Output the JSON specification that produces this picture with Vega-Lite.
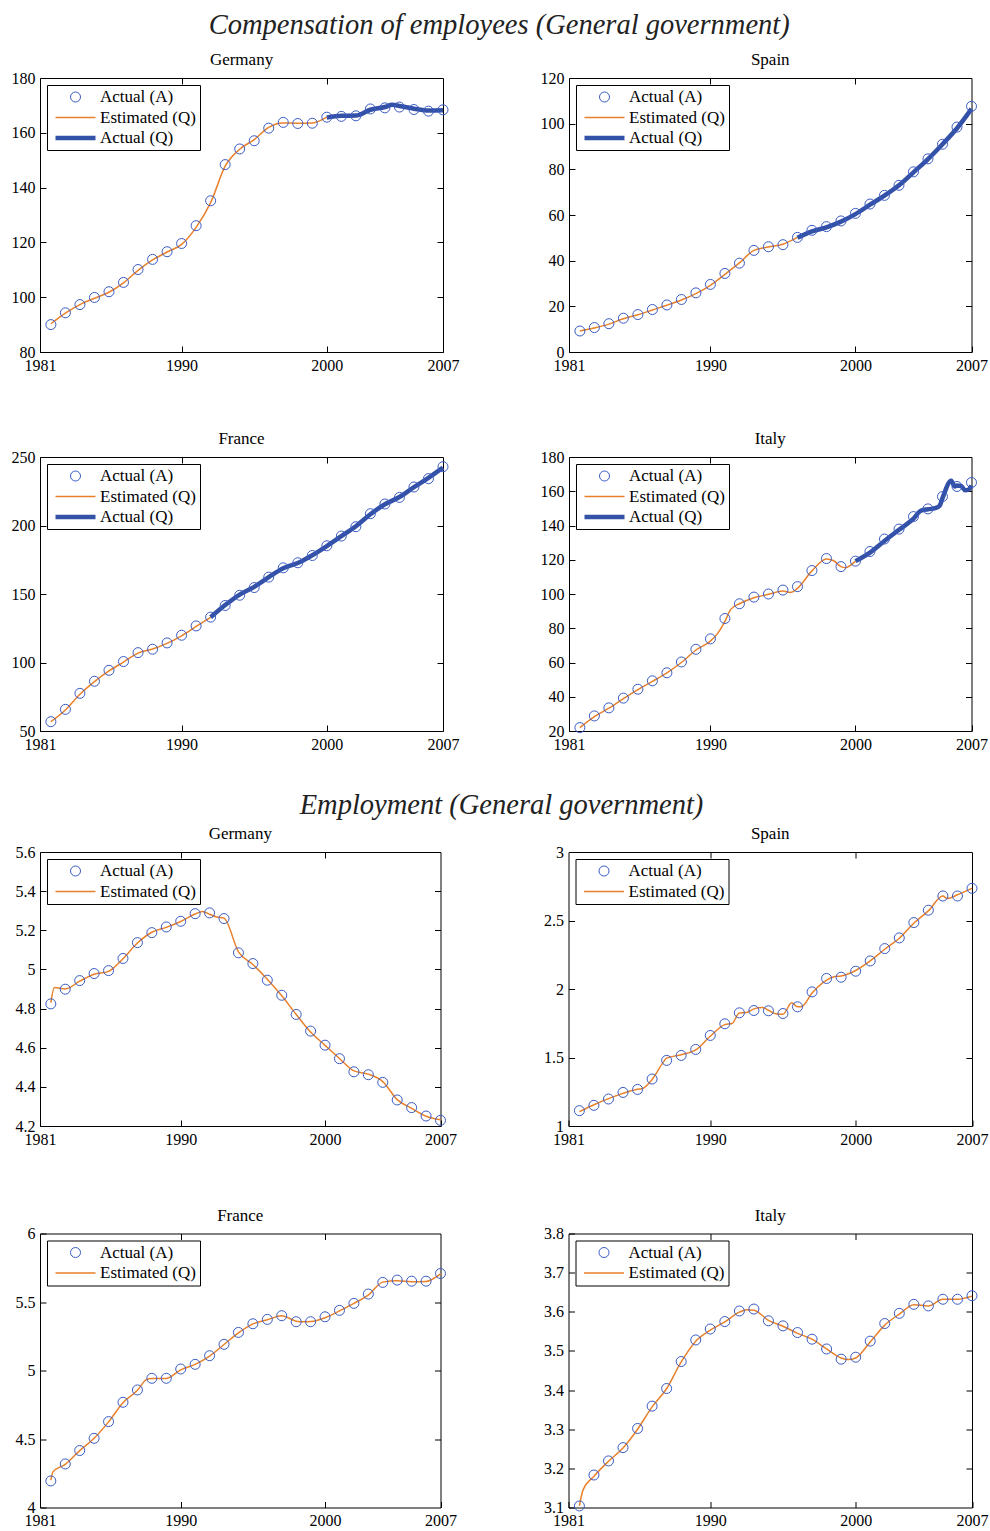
{
"$schema": "https://vega.github.io/schema/vega-lite/v6.json",
"background": "white",
"padding": {"left": 10, "top": 10, "right": 2, "bottom": 2},
"config": {
  "view": {"stroke": "black", "strokeWidth": 1},
  "font": "Liberation Serif",
  "axis": {"grid": false, "domain": false, "ticks": true, "tickColor": "black", "tickSize": -6, "tickWidth": 1, "labelFont": "Liberation Serif", "labelFontSize": 16, "labelColor": "black", "labelPadding": 11, "labelFlush": false, "labelOverlap": false},
  "title": {"font": "Liberation Serif", "fontSize": 17, "fontWeight": "normal", "color": "black", "offset": 1, "anchor": "middle"},
  "legend": {"strokeColor": "black", "fillColor": "white", "padding": 4, "cornerRadius": 0, "labelFont": "Liberation Serif", "labelFontSize": 17, "labelColor": "black", "labelOffset": 16, "symbolOffset": 16, "clipHeight": 16, "rowPadding": 3.5, "labelLimit": 300, "symbolFillColor": "transparent"}
},
"data": {"values": [
{"p":"cDE","s":"A","x":1981,"v":90.0},{"p":"cDE","s":"A","x":1982,"v":94.3},{"p":"cDE","s":"A","x":1983,"v":97.3},{"p":"cDE","s":"A","x":1984,"v":99.9},{"p":"cDE","s":"A","x":1985,"v":102.0},{"p":"cDE","s":"A","x":1986,"v":105.4},{"p":"cDE","s":"A","x":1987,"v":110.1},{"p":"cDE","s":"A","x":1988,"v":113.8},{"p":"cDE","s":"A","x":1989,"v":116.6},{"p":"cDE","s":"A","x":1990,"v":119.6},{"p":"cDE","s":"A","x":1991,"v":126.1},{"p":"cDE","s":"A","x":1992,"v":135.2},{"p":"cDE","s":"A","x":1993,"v":148.4},{"p":"cDE","s":"A","x":1994,"v":154.1},{"p":"cDE","s":"A","x":1995,"v":157.1},{"p":"cDE","s":"A","x":1996,"v":161.7},{"p":"cDE","s":"A","x":1997,"v":163.8},{"p":"cDE","s":"A","x":1998,"v":163.4},{"p":"cDE","s":"A","x":1999,"v":163.5},{"p":"cDE","s":"A","x":2000,"v":165.7},{"p":"cDE","s":"A","x":2001,"v":166.0},{"p":"cDE","s":"A","x":2002,"v":166.2},{"p":"cDE","s":"A","x":2003,"v":168.7},{"p":"cDE","s":"A","x":2004,"v":169.1},{"p":"cDE","s":"A","x":2005,"v":169.4},{"p":"cDE","s":"A","x":2006,"v":168.5},{"p":"cDE","s":"A","x":2007,"v":167.9},{"p":"cDE","s":"A","x":2008,"v":168.4},
{"p":"cDE","s":"E","x":1981,"v":90.3},{"p":"cDE","s":"E","x":1982,"v":94.2},{"p":"cDE","s":"E","x":1983,"v":97.3},{"p":"cDE","s":"E","x":1984,"v":99.6},{"p":"cDE","s":"E","x":1985,"v":101.8},{"p":"cDE","s":"E","x":1986,"v":105.2},{"p":"cDE","s":"E","x":1987,"v":109.8},{"p":"cDE","s":"E","x":1988,"v":113.6},{"p":"cDE","s":"E","x":1989,"v":116.5},{"p":"cDE","s":"E","x":1990,"v":119.3},{"p":"cDE","s":"E","x":1991,"v":125.5},{"p":"cDE","s":"E","x":1992,"v":134.5},{"p":"cDE","s":"E","x":1993,"v":147.8},{"p":"cDE","s":"E","x":1994,"v":154.0},{"p":"cDE","s":"E","x":1995,"v":157.5},{"p":"cDE","s":"E","x":1996,"v":162.0},{"p":"cDE","s":"E","x":1997,"v":163.6},{"p":"cDE","s":"E","x":1998,"v":163.5},{"p":"cDE","s":"E","x":1999,"v":163.6},{"p":"cDE","s":"E","x":2000,"v":165.7},
{"p":"cDE","s":"Q","x":2000,"v":165.6},{"p":"cDE","s":"Q","x":2001,"v":166.2},{"p":"cDE","s":"Q","x":2002,"v":166.3},{"p":"cDE","s":"Q","x":2003,"v":168.4},{"p":"cDE","s":"Q","x":2004,"v":169.4},{"p":"cDE","s":"Q","x":2004.5,"v":170.2},{"p":"cDE","s":"Q","x":2005,"v":169.8},{"p":"cDE","s":"Q","x":2006,"v":168.8},{"p":"cDE","s":"Q","x":2007,"v":168.1},{"p":"cDE","s":"Q","x":2008,"v":168.2},
{"p":"cES","s":"A","x":1981,"v":9.2},{"p":"cES","s":"A","x":1982,"v":10.7},{"p":"cES","s":"A","x":1983,"v":12.4},{"p":"cES","s":"A","x":1984,"v":14.8},{"p":"cES","s":"A","x":1985,"v":16.4},{"p":"cES","s":"A","x":1986,"v":18.6},{"p":"cES","s":"A","x":1987,"v":20.6},{"p":"cES","s":"A","x":1988,"v":23.0},{"p":"cES","s":"A","x":1989,"v":25.9},{"p":"cES","s":"A","x":1990,"v":29.6},{"p":"cES","s":"A","x":1991,"v":34.4},{"p":"cES","s":"A","x":1992,"v":38.9},{"p":"cES","s":"A","x":1993,"v":44.5},{"p":"cES","s":"A","x":1994,"v":46.1},{"p":"cES","s":"A","x":1995,"v":47.0},{"p":"cES","s":"A","x":1996,"v":50.2},{"p":"cES","s":"A","x":1997,"v":53.3},{"p":"cES","s":"A","x":1998,"v":54.9},{"p":"cES","s":"A","x":1999,"v":57.4},{"p":"cES","s":"A","x":2000,"v":60.7},{"p":"cES","s":"A","x":2001,"v":64.8},{"p":"cES","s":"A","x":2002,"v":68.6},{"p":"cES","s":"A","x":2003,"v":73.0},{"p":"cES","s":"A","x":2004,"v":78.9},{"p":"cES","s":"A","x":2005,"v":84.6},{"p":"cES","s":"A","x":2006,"v":91.0},{"p":"cES","s":"A","x":2007,"v":98.5},{"p":"cES","s":"A","x":2008,"v":107.6},
{"p":"cES","s":"E","x":1981,"v":9.2},{"p":"cES","s":"E","x":1982,"v":10.5},{"p":"cES","s":"E","x":1983,"v":12.2},{"p":"cES","s":"E","x":1984,"v":14.6},{"p":"cES","s":"E","x":1985,"v":16.3},{"p":"cES","s":"E","x":1986,"v":18.4},{"p":"cES","s":"E","x":1987,"v":20.5},{"p":"cES","s":"E","x":1988,"v":22.8},{"p":"cES","s":"E","x":1989,"v":25.6},{"p":"cES","s":"E","x":1990,"v":29.2},{"p":"cES","s":"E","x":1991,"v":34.0},{"p":"cES","s":"E","x":1992,"v":39.0},{"p":"cES","s":"E","x":1993,"v":44.5},{"p":"cES","s":"E","x":1994,"v":46.0},{"p":"cES","s":"E","x":1995,"v":47.2},{"p":"cES","s":"E","x":1996,"v":50.2},
{"p":"cES","s":"Q","x":1996,"v":50.0},{"p":"cES","s":"Q","x":1997,"v":52.8},{"p":"cES","s":"Q","x":1998,"v":54.6},{"p":"cES","s":"Q","x":1999,"v":57.1},{"p":"cES","s":"Q","x":2000,"v":60.4},{"p":"cES","s":"Q","x":2001,"v":64.5},{"p":"cES","s":"Q","x":2002,"v":68.5},{"p":"cES","s":"Q","x":2003,"v":73.0},{"p":"cES","s":"Q","x":2004,"v":78.7},{"p":"cES","s":"Q","x":2005,"v":84.5},{"p":"cES","s":"Q","x":2006,"v":91.0},{"p":"cES","s":"Q","x":2007,"v":98.0},{"p":"cES","s":"Q","x":2008,"v":106.5},
{"p":"cFR","s":"A","x":1981,"v":56.8},{"p":"cFR","s":"A","x":1982,"v":65.8},{"p":"cFR","s":"A","x":1983,"v":77.5},{"p":"cFR","s":"A","x":1984,"v":86.3},{"p":"cFR","s":"A","x":1985,"v":94.3},{"p":"cFR","s":"A","x":1986,"v":100.7},{"p":"cFR","s":"A","x":1987,"v":107.2},{"p":"cFR","s":"A","x":1988,"v":109.7},{"p":"cFR","s":"A","x":1989,"v":114.3},{"p":"cFR","s":"A","x":1990,"v":119.9},{"p":"cFR","s":"A","x":1991,"v":126.7},{"p":"cFR","s":"A","x":1992,"v":133.1},{"p":"cFR","s":"A","x":1993,"v":141.6},{"p":"cFR","s":"A","x":1994,"v":149.1},{"p":"cFR","s":"A","x":1995,"v":154.7},{"p":"cFR","s":"A","x":1996,"v":162.3},{"p":"cFR","s":"A","x":1997,"v":169.1},{"p":"cFR","s":"A","x":1998,"v":172.8},{"p":"cFR","s":"A","x":1999,"v":178.1},{"p":"cFR","s":"A","x":2000,"v":185.2},{"p":"cFR","s":"A","x":2001,"v":192.3},{"p":"cFR","s":"A","x":2002,"v":199.1},{"p":"cFR","s":"A","x":2003,"v":208.6},{"p":"cFR","s":"A","x":2004,"v":215.7},{"p":"cFR","s":"A","x":2005,"v":220.5},{"p":"cFR","s":"A","x":2006,"v":228.1},{"p":"cFR","s":"A","x":2007,"v":234.2},{"p":"cFR","s":"A","x":2008,"v":242.9},
{"p":"cFR","s":"E","x":1981,"v":56.8},{"p":"cFR","s":"E","x":1982,"v":65.3},{"p":"cFR","s":"E","x":1983,"v":76.8},{"p":"cFR","s":"E","x":1984,"v":86.0},{"p":"cFR","s":"E","x":1985,"v":93.8},{"p":"cFR","s":"E","x":1986,"v":100.3},{"p":"cFR","s":"E","x":1987,"v":106.8},{"p":"cFR","s":"E","x":1988,"v":109.9},{"p":"cFR","s":"E","x":1989,"v":114.0},{"p":"cFR","s":"E","x":1990,"v":119.5},{"p":"cFR","s":"E","x":1991,"v":126.3},{"p":"cFR","s":"E","x":1992,"v":133.0},
{"p":"cFR","s":"Q","x":1992,"v":133.0},{"p":"cFR","s":"Q","x":1993,"v":141.9},{"p":"cFR","s":"Q","x":1994,"v":149.6},{"p":"cFR","s":"Q","x":1995,"v":155.2},{"p":"cFR","s":"Q","x":1996,"v":162.3},{"p":"cFR","s":"Q","x":1997,"v":168.8},{"p":"cFR","s":"Q","x":1998,"v":172.6},{"p":"cFR","s":"Q","x":1999,"v":178.3},{"p":"cFR","s":"Q","x":2000,"v":185.0},{"p":"cFR","s":"Q","x":2001,"v":192.2},{"p":"cFR","s":"Q","x":2002,"v":199.5},{"p":"cFR","s":"Q","x":2003,"v":208.2},{"p":"cFR","s":"Q","x":2004,"v":215.5},{"p":"cFR","s":"Q","x":2005,"v":220.8},{"p":"cFR","s":"Q","x":2006,"v":228.0},{"p":"cFR","s":"Q","x":2007,"v":234.8},{"p":"cFR","s":"Q","x":2008,"v":242.2},
{"p":"cIT","s":"A","x":1981,"v":22.0},{"p":"cIT","s":"A","x":1982,"v":28.8},{"p":"cIT","s":"A","x":1983,"v":33.5},{"p":"cIT","s":"A","x":1984,"v":39.2},{"p":"cIT","s":"A","x":1985,"v":44.4},{"p":"cIT","s":"A","x":1986,"v":49.3},{"p":"cIT","s":"A","x":1987,"v":54.0},{"p":"cIT","s":"A","x":1988,"v":60.3},{"p":"cIT","s":"A","x":1989,"v":67.7},{"p":"cIT","s":"A","x":1990,"v":73.8},{"p":"cIT","s":"A","x":1991,"v":85.7},{"p":"cIT","s":"A","x":1992,"v":94.3},{"p":"cIT","s":"A","x":1993,"v":98.2},{"p":"cIT","s":"A","x":1994,"v":100.0},{"p":"cIT","s":"A","x":1995,"v":102.3},{"p":"cIT","s":"A","x":1996,"v":104.3},{"p":"cIT","s":"A","x":1997,"v":113.7},{"p":"cIT","s":"A","x":1998,"v":120.7},{"p":"cIT","s":"A","x":1999,"v":116.0},{"p":"cIT","s":"A","x":2000,"v":119.2},{"p":"cIT","s":"A","x":2001,"v":124.8},{"p":"cIT","s":"A","x":2002,"v":132.1},{"p":"cIT","s":"A","x":2003,"v":137.9},{"p":"cIT","s":"A","x":2004,"v":145.2},{"p":"cIT","s":"A","x":2005,"v":149.7},{"p":"cIT","s":"A","x":2006,"v":156.9},{"p":"cIT","s":"A","x":2007,"v":162.8},{"p":"cIT","s":"A","x":2008,"v":165.1},
{"p":"cIT","s":"E","x":1981,"v":22.0},{"p":"cIT","s":"E","x":1982,"v":28.4},{"p":"cIT","s":"E","x":1983,"v":33.3},{"p":"cIT","s":"E","x":1984,"v":38.9},{"p":"cIT","s":"E","x":1985,"v":44.2},{"p":"cIT","s":"E","x":1986,"v":49.0},{"p":"cIT","s":"E","x":1987,"v":54.0},{"p":"cIT","s":"E","x":1988,"v":60.0},{"p":"cIT","s":"E","x":1989,"v":67.3},{"p":"cIT","s":"E","x":1990,"v":72.5},{"p":"cIT","s":"E","x":1990.5,"v":77.0},{"p":"cIT","s":"E","x":1991,"v":84.0},{"p":"cIT","s":"E","x":1991.4,"v":91.0},{"p":"cIT","s":"E","x":1992,"v":94.3},{"p":"cIT","s":"E","x":1993,"v":97.8},{"p":"cIT","s":"E","x":1994,"v":99.8},{"p":"cIT","s":"E","x":1995,"v":101.8},{"p":"cIT","s":"E","x":1995.5,"v":100.9},{"p":"cIT","s":"E","x":1996,"v":103.3},{"p":"cIT","s":"E","x":1997,"v":113.5},{"p":"cIT","s":"E","x":1998,"v":120.5},{"p":"cIT","s":"E","x":1998.5,"v":119.4},{"p":"cIT","s":"E","x":1999,"v":116.0},{"p":"cIT","s":"E","x":1999.3,"v":115.4},{"p":"cIT","s":"E","x":2000,"v":119.2},
{"p":"cIT","s":"Q","x":2000,"v":119.2},{"p":"cIT","s":"Q","x":2001,"v":124.2},{"p":"cIT","s":"Q","x":2002,"v":131.0},{"p":"cIT","s":"Q","x":2003,"v":137.5},{"p":"cIT","s":"Q","x":2004,"v":144.0},{"p":"cIT","s":"Q","x":2004.5,"v":148.6},{"p":"cIT","s":"Q","x":2005,"v":149.5},{"p":"cIT","s":"Q","x":2005.5,"v":150.1},{"p":"cIT","s":"Q","x":2005.8,"v":151.5},{"p":"cIT","s":"Q","x":2006,"v":156.0},{"p":"cIT","s":"Q","x":2006.6,"v":166.2},{"p":"cIT","s":"Q","x":2006.85,"v":162.8},{"p":"cIT","s":"Q","x":2007,"v":163.4},{"p":"cIT","s":"Q","x":2007.3,"v":163.0},{"p":"cIT","s":"Q","x":2007.55,"v":160.6},{"p":"cIT","s":"Q","x":2007.8,"v":161.0},{"p":"cIT","s":"Q","x":2008,"v":163.4},
{"p":"eDE","s":"A","x":1981,"v":4.824},{"p":"eDE","s":"A","x":1982,"v":4.899},{"p":"eDE","s":"A","x":1983,"v":4.943},{"p":"eDE","s":"A","x":1984,"v":4.979},{"p":"eDE","s":"A","x":1985,"v":4.994},{"p":"eDE","s":"A","x":1986,"v":5.056},{"p":"eDE","s":"A","x":1987,"v":5.137},{"p":"eDE","s":"A","x":1988,"v":5.188},{"p":"eDE","s":"A","x":1989,"v":5.217},{"p":"eDE","s":"A","x":1990,"v":5.246},{"p":"eDE","s":"A","x":1991,"v":5.285},{"p":"eDE","s":"A","x":1992,"v":5.289},{"p":"eDE","s":"A","x":1993,"v":5.26},{"p":"eDE","s":"A","x":1994,"v":5.085},{"p":"eDE","s":"A","x":1995,"v":5.03},{"p":"eDE","s":"A","x":1996,"v":4.945},{"p":"eDE","s":"A","x":1997,"v":4.868},{"p":"eDE","s":"A","x":1998,"v":4.77},{"p":"eDE","s":"A","x":1999,"v":4.685},{"p":"eDE","s":"A","x":2000,"v":4.613},{"p":"eDE","s":"A","x":2001,"v":4.544},{"p":"eDE","s":"A","x":2002,"v":4.477},{"p":"eDE","s":"A","x":2003,"v":4.462},{"p":"eDE","s":"A","x":2004,"v":4.423},{"p":"eDE","s":"A","x":2005,"v":4.333},{"p":"eDE","s":"A","x":2006,"v":4.294},{"p":"eDE","s":"A","x":2007,"v":4.251},{"p":"eDE","s":"A","x":2008,"v":4.229},
{"p":"eDE","s":"E","x":1981,"v":4.83},{"p":"eDE","s":"E","x":1981.25,"v":4.908},{"p":"eDE","s":"E","x":1982,"v":4.9},{"p":"eDE","s":"E","x":1983,"v":4.94},{"p":"eDE","s":"E","x":1984,"v":4.975},{"p":"eDE","s":"E","x":1985,"v":4.99},{"p":"eDE","s":"E","x":1986,"v":5.055},{"p":"eDE","s":"E","x":1987,"v":5.135},{"p":"eDE","s":"E","x":1988,"v":5.19},{"p":"eDE","s":"E","x":1989,"v":5.215},{"p":"eDE","s":"E","x":1990,"v":5.245},{"p":"eDE","s":"E","x":1991,"v":5.283},{"p":"eDE","s":"E","x":1991.5,"v":5.296},{"p":"eDE","s":"E","x":1992,"v":5.282},{"p":"eDE","s":"E","x":1992.5,"v":5.268},{"p":"eDE","s":"E","x":1993,"v":5.262},{"p":"eDE","s":"E","x":1994,"v":5.09},{"p":"eDE","s":"E","x":1995,"v":5.025},{"p":"eDE","s":"E","x":1996,"v":4.95},{"p":"eDE","s":"E","x":1997,"v":4.865},{"p":"eDE","s":"E","x":1998,"v":4.77},{"p":"eDE","s":"E","x":1999,"v":4.68},{"p":"eDE","s":"E","x":2000,"v":4.612},{"p":"eDE","s":"E","x":2001,"v":4.545},{"p":"eDE","s":"E","x":2002,"v":4.482},{"p":"eDE","s":"E","x":2003,"v":4.465},{"p":"eDE","s":"E","x":2004,"v":4.427},{"p":"eDE","s":"E","x":2005,"v":4.335},{"p":"eDE","s":"E","x":2006,"v":4.29},{"p":"eDE","s":"E","x":2007,"v":4.25},{"p":"eDE","s":"E","x":2008,"v":4.232},
{"p":"eES","s":"A","x":1981,"v":1.112},{"p":"eES","s":"A","x":1982,"v":1.151},{"p":"eES","s":"A","x":1983,"v":1.197},{"p":"eES","s":"A","x":1984,"v":1.245},{"p":"eES","s":"A","x":1985,"v":1.267},{"p":"eES","s":"A","x":1986,"v":1.343},{"p":"eES","s":"A","x":1987,"v":1.479},{"p":"eES","s":"A","x":1988,"v":1.515},{"p":"eES","s":"A","x":1989,"v":1.559},{"p":"eES","s":"A","x":1990,"v":1.661},{"p":"eES","s":"A","x":1991,"v":1.746},{"p":"eES","s":"A","x":1992,"v":1.826},{"p":"eES","s":"A","x":1993,"v":1.843},{"p":"eES","s":"A","x":1994,"v":1.841},{"p":"eES","s":"A","x":1995,"v":1.821},{"p":"eES","s":"A","x":1996,"v":1.87},{"p":"eES","s":"A","x":1997,"v":1.979},{"p":"eES","s":"A","x":1998,"v":2.077},{"p":"eES","s":"A","x":1999,"v":2.086},{"p":"eES","s":"A","x":2000,"v":2.13},{"p":"eES","s":"A","x":2001,"v":2.205},{"p":"eES","s":"A","x":2002,"v":2.295},{"p":"eES","s":"A","x":2003,"v":2.373},{"p":"eES","s":"A","x":2004,"v":2.485},{"p":"eES","s":"A","x":2005,"v":2.575},{"p":"eES","s":"A","x":2006,"v":2.679},{"p":"eES","s":"A","x":2007,"v":2.679},{"p":"eES","s":"A","x":2008,"v":2.735},
{"p":"eES","s":"E","x":1981,"v":1.105},{"p":"eES","s":"E","x":1982,"v":1.155},{"p":"eES","s":"E","x":1983,"v":1.2},{"p":"eES","s":"E","x":1984,"v":1.238},{"p":"eES","s":"E","x":1985,"v":1.268},{"p":"eES","s":"E","x":1985.3,"v":1.272},{"p":"eES","s":"E","x":1986,"v":1.34},{"p":"eES","s":"E","x":1986.8,"v":1.47},{"p":"eES","s":"E","x":1987,"v":1.495},{"p":"eES","s":"E","x":1988,"v":1.52},{"p":"eES","s":"E","x":1989,"v":1.555},{"p":"eES","s":"E","x":1990,"v":1.655},{"p":"eES","s":"E","x":1991,"v":1.74},{"p":"eES","s":"E","x":1991.5,"v":1.748},{"p":"eES","s":"E","x":1992,"v":1.825},{"p":"eES","s":"E","x":1992.5,"v":1.828},{"p":"eES","s":"E","x":1993,"v":1.855},{"p":"eES","s":"E","x":1993.6,"v":1.865},{"p":"eES","s":"E","x":1994,"v":1.845},{"p":"eES","s":"E","x":1994.5,"v":1.82},{"p":"eES","s":"E","x":1995,"v":1.815},{"p":"eES","s":"E","x":1995.6,"v":1.9},{"p":"eES","s":"E","x":1996,"v":1.87},{"p":"eES","s":"E","x":1996.3,"v":1.873},{"p":"eES","s":"E","x":1997,"v":1.97},{"p":"eES","s":"E","x":1998,"v":2.065},{"p":"eES","s":"E","x":1998.5,"v":2.09},{"p":"eES","s":"E","x":1999,"v":2.095},{"p":"eES","s":"E","x":2000,"v":2.135},{"p":"eES","s":"E","x":2001,"v":2.205},{"p":"eES","s":"E","x":2002,"v":2.29},{"p":"eES","s":"E","x":2003,"v":2.37},{"p":"eES","s":"E","x":2004,"v":2.48},{"p":"eES","s":"E","x":2005,"v":2.57},{"p":"eES","s":"E","x":2006,"v":2.678},{"p":"eES","s":"E","x":2006.3,"v":2.66},{"p":"eES","s":"E","x":2007,"v":2.688},{"p":"eES","s":"E","x":2008,"v":2.735},
{"p":"eFR","s":"A","x":1981,"v":4.194},{"p":"eFR","s":"A","x":1982,"v":4.318},{"p":"eFR","s":"A","x":1983,"v":4.416},{"p":"eFR","s":"A","x":1984,"v":4.505},{"p":"eFR","s":"A","x":1985,"v":4.627},{"p":"eFR","s":"A","x":1986,"v":4.768},{"p":"eFR","s":"A","x":1987,"v":4.858},{"p":"eFR","s":"A","x":1988,"v":4.943},{"p":"eFR","s":"A","x":1989,"v":4.943},{"p":"eFR","s":"A","x":1990,"v":5.011},{"p":"eFR","s":"A","x":1991,"v":5.045},{"p":"eFR","s":"A","x":1992,"v":5.108},{"p":"eFR","s":"A","x":1993,"v":5.191},{"p":"eFR","s":"A","x":1994,"v":5.278},{"p":"eFR","s":"A","x":1995,"v":5.341},{"p":"eFR","s":"A","x":1996,"v":5.373},{"p":"eFR","s":"A","x":1997,"v":5.4},{"p":"eFR","s":"A","x":1998,"v":5.356},{"p":"eFR","s":"A","x":1999,"v":5.356},{"p":"eFR","s":"A","x":2000,"v":5.392},{"p":"eFR","s":"A","x":2001,"v":5.439},{"p":"eFR","s":"A","x":2002,"v":5.49},{"p":"eFR","s":"A","x":2003,"v":5.558},{"p":"eFR","s":"A","x":2004,"v":5.643},{"p":"eFR","s":"A","x":2005,"v":5.66},{"p":"eFR","s":"A","x":2006,"v":5.652},{"p":"eFR","s":"A","x":2007,"v":5.652},{"p":"eFR","s":"A","x":2008,"v":5.708},
{"p":"eFR","s":"E","x":1981,"v":4.2},{"p":"eFR","s":"E","x":1981.15,"v":4.26},{"p":"eFR","s":"E","x":1982,"v":4.315},{"p":"eFR","s":"E","x":1983,"v":4.415},{"p":"eFR","s":"E","x":1984,"v":4.505},{"p":"eFR","s":"E","x":1985,"v":4.625},{"p":"eFR","s":"E","x":1986,"v":4.765},{"p":"eFR","s":"E","x":1987,"v":4.855},{"p":"eFR","s":"E","x":1987.6,"v":4.932},{"p":"eFR","s":"E","x":1988,"v":4.942},{"p":"eFR","s":"E","x":1989,"v":4.942},{"p":"eFR","s":"E","x":1990,"v":5.005},{"p":"eFR","s":"E","x":1991,"v":5.045},{"p":"eFR","s":"E","x":1992,"v":5.105},{"p":"eFR","s":"E","x":1993,"v":5.19},{"p":"eFR","s":"E","x":1994,"v":5.275},{"p":"eFR","s":"E","x":1995,"v":5.34},{"p":"eFR","s":"E","x":1996,"v":5.37},{"p":"eFR","s":"E","x":1997,"v":5.4},{"p":"eFR","s":"E","x":1998,"v":5.36},{"p":"eFR","s":"E","x":1998.5,"v":5.355},{"p":"eFR","s":"E","x":1999,"v":5.357},{"p":"eFR","s":"E","x":2000,"v":5.385},{"p":"eFR","s":"E","x":2001,"v":5.435},{"p":"eFR","s":"E","x":2002,"v":5.49},{"p":"eFR","s":"E","x":2003,"v":5.55},{"p":"eFR","s":"E","x":2004,"v":5.645},{"p":"eFR","s":"E","x":2005,"v":5.655},{"p":"eFR","s":"E","x":2006,"v":5.648},{"p":"eFR","s":"E","x":2007,"v":5.65},{"p":"eFR","s":"E","x":2008,"v":5.705},
{"p":"eIT","s":"A","x":1981,"v":3.104},{"p":"eIT","s":"A","x":1982,"v":3.183},{"p":"eIT","s":"A","x":1983,"v":3.219},{"p":"eIT","s":"A","x":1984,"v":3.253},{"p":"eIT","s":"A","x":1985,"v":3.302},{"p":"eIT","s":"A","x":1986,"v":3.359},{"p":"eIT","s":"A","x":1987,"v":3.404},{"p":"eIT","s":"A","x":1988,"v":3.473},{"p":"eIT","s":"A","x":1989,"v":3.528},{"p":"eIT","s":"A","x":1990,"v":3.556},{"p":"eIT","s":"A","x":1991,"v":3.575},{"p":"eIT","s":"A","x":1992,"v":3.602},{"p":"eIT","s":"A","x":1993,"v":3.607},{"p":"eIT","s":"A","x":1994,"v":3.577},{"p":"eIT","s":"A","x":1995,"v":3.564},{"p":"eIT","s":"A","x":1996,"v":3.547},{"p":"eIT","s":"A","x":1997,"v":3.53},{"p":"eIT","s":"A","x":1998,"v":3.505},{"p":"eIT","s":"A","x":1999,"v":3.479},{"p":"eIT","s":"A","x":2000,"v":3.484},{"p":"eIT","s":"A","x":2001,"v":3.525},{"p":"eIT","s":"A","x":2002,"v":3.57},{"p":"eIT","s":"A","x":2003,"v":3.596},{"p":"eIT","s":"A","x":2004,"v":3.619},{"p":"eIT","s":"A","x":2005,"v":3.615},{"p":"eIT","s":"A","x":2006,"v":3.632},{"p":"eIT","s":"A","x":2007,"v":3.632},{"p":"eIT","s":"A","x":2008,"v":3.641},
{"p":"eIT","s":"E","x":1981,"v":3.104},{"p":"eIT","s":"E","x":1981.25,"v":3.145},{"p":"eIT","s":"E","x":1982,"v":3.18},{"p":"eIT","s":"E","x":1983,"v":3.218},{"p":"eIT","s":"E","x":1984,"v":3.252},{"p":"eIT","s":"E","x":1985,"v":3.3},{"p":"eIT","s":"E","x":1986,"v":3.357},{"p":"eIT","s":"E","x":1987,"v":3.404},{"p":"eIT","s":"E","x":1988,"v":3.472},{"p":"eIT","s":"E","x":1989,"v":3.525},{"p":"eIT","s":"E","x":1990,"v":3.553},{"p":"eIT","s":"E","x":1991,"v":3.574},{"p":"eIT","s":"E","x":1992,"v":3.599},{"p":"eIT","s":"E","x":1992.5,"v":3.605},{"p":"eIT","s":"E","x":1993,"v":3.604},{"p":"eIT","s":"E","x":1994,"v":3.578},{"p":"eIT","s":"E","x":1995,"v":3.563},{"p":"eIT","s":"E","x":1996,"v":3.545},{"p":"eIT","s":"E","x":1997,"v":3.53},{"p":"eIT","s":"E","x":1998,"v":3.505},{"p":"eIT","s":"E","x":1999,"v":3.482},{"p":"eIT","s":"E","x":1999.5,"v":3.478},{"p":"eIT","s":"E","x":2000,"v":3.482},{"p":"eIT","s":"E","x":2001,"v":3.523},{"p":"eIT","s":"E","x":2002,"v":3.566},{"p":"eIT","s":"E","x":2003,"v":3.594},{"p":"eIT","s":"E","x":2004,"v":3.618},{"p":"eIT","s":"E","x":2005,"v":3.615},{"p":"eIT","s":"E","x":2006,"v":3.632},{"p":"eIT","s":"E","x":2007,"v":3.632},{"p":"eIT","s":"E","x":2008,"v":3.64}
]},
"spacing": 37,
"resolve": {"scale": {"color": "independent"}, "legend": {"color": "independent"}},
"vconcat": [
{
 "title": {"text": "Compensation of employees (General government)", "font": "Liberation Serif", "fontStyle": "italic", "fontSize": 28.5, "fontWeight": "normal", "color": "#222222", "anchor": "middle", "offset": 11.5},
 "spacing": 55,
 "resolve": {"scale": {"color": "independent"}, "legend": {"color": "independent"}},
 "vconcat": [
  {"bounds": "flush", "spacing": 126, "resolve": {"scale": {"color": "independent"}, "legend": {"color": "independent"}}, "hconcat": [
   {"width": 403, "height": 274, "title": "Germany", "transform": [{"filter": "datum.p == 'cDE'"}],
    "encoding": {"color": {"field": "s", "type": "nominal", "scale": {"domain": ["A","E","Q"], "range": ["#3a5bc2","#e8802c","#3451a8"]}, "legend": {"title": null, "orient": "top-left", "offset": 7, "labelExpr": "datum.value == 'A' ? 'Actual (A)' : datum.value == 'E' ? 'Estimated (Q)' : 'Actual (Q)'", "symbolType": {"expr": "datum.value == 'A' ? 'circle' : 'stroke'"}, "symbolSize": {"expr": "datum.value == 'A' ? 100 : 1600"}, "symbolStrokeWidth": {"expr": "datum.value == 'Q' ? 4.5 : datum.value == 'E' ? 1.5 : 1"}}}},
    "layer": [
     {"transform": [{"filter": "datum.s == 'E'"}], "mark": {"type": "line", "interpolate": "monotone", "strokeWidth": 1.5},
      "encoding": {"x": {"field": "x", "type": "quantitative", "title": null, "scale": {"domain": [1980.25, 2008], "nice": false, "zero": false}, "axis": {"orient": "bottom", "values": [1980.25, 1990, 2000, 2008], "labelExpr": "datum.value < 1981 ? '1981' : datum.value > 2007.5 ? '2007' : format(datum.value, 'd')"}},
                   "y": {"field": "v", "type": "quantitative", "title": null, "scale": {"domain": [80, 180], "nice": false, "zero": false}, "axis": {"orient": "left", "values": [80,100,120,140,160,180], "labelExpr": "'' + datum.value"}}}},
     {"transform": [{"filter": "datum.s == 'Q'"}], "mark": {"type": "line", "interpolate": "monotone", "strokeWidth": 4.5},
      "encoding": {"x": {"field": "x", "type": "quantitative", "title": null, "scale": {"domain": [1980.25, 2008], "nice": false, "zero": false}, "axis": {"orient": "top", "values": [1990, 2000], "labels": false}},
                   "y": {"field": "v", "type": "quantitative", "title": null, "scale": {"domain": [80, 180], "nice": false, "zero": false}, "axis": {"orient": "right", "values": [100,120,140,160], "labels": false}}}},
     {"transform": [{"filter": "datum.s == 'A'"}], "mark": {"type": "point", "shape": "circle", "filled": false, "size": 100, "strokeWidth": 1, "opacity": 1},
      "encoding": {"x": {"field": "x", "type": "quantitative", "title": null, "scale": {"domain": [1980.25, 2008], "nice": false, "zero": false}, "axis": null},
                   "y": {"field": "v", "type": "quantitative", "title": null, "scale": {"domain": [80, 180], "nice": false, "zero": false}, "axis": null}}}
    ],
    "resolve": {"axis": {"x": "independent", "y": "independent"}}},
   {"width": 402.5, "height": 274, "title": "Spain", "transform": [{"filter": "datum.p == 'cES'"}],
    "encoding": {"color": {"field": "s", "type": "nominal", "scale": {"domain": ["A","E","Q"], "range": ["#3a5bc2","#e8802c","#3451a8"]}, "legend": {"title": null, "orient": "top-left", "offset": 7, "labelExpr": "datum.value == 'A' ? 'Actual (A)' : datum.value == 'E' ? 'Estimated (Q)' : 'Actual (Q)'", "symbolType": {"expr": "datum.value == 'A' ? 'circle' : 'stroke'"}, "symbolSize": {"expr": "datum.value == 'A' ? 100 : 1600"}, "symbolStrokeWidth": {"expr": "datum.value == 'Q' ? 4.5 : datum.value == 'E' ? 1.5 : 1"}}}},
    "layer": [
     {"transform": [{"filter": "datum.s == 'E'"}], "mark": {"type": "line", "interpolate": "monotone", "strokeWidth": 1.5},
      "encoding": {"x": {"field": "x", "type": "quantitative", "title": null, "scale": {"domain": [1980.25, 2008], "nice": false, "zero": false}, "axis": {"orient": "bottom", "values": [1980.25, 1990, 2000, 2008], "labelExpr": "datum.value < 1981 ? '1981' : datum.value > 2007.5 ? '2007' : format(datum.value, 'd')"}},
                   "y": {"field": "v", "type": "quantitative", "title": null, "scale": {"domain": [0, 120], "nice": false, "zero": false}, "axis": {"orient": "left", "values": [0,20,40,60,80,100,120], "labelExpr": "'' + datum.value"}}}},
     {"transform": [{"filter": "datum.s == 'Q'"}], "mark": {"type": "line", "interpolate": "monotone", "strokeWidth": 4.5},
      "encoding": {"x": {"field": "x", "type": "quantitative", "title": null, "scale": {"domain": [1980.25, 2008], "nice": false, "zero": false}, "axis": {"orient": "top", "values": [1990, 2000], "labels": false}},
                   "y": {"field": "v", "type": "quantitative", "title": null, "scale": {"domain": [0, 120], "nice": false, "zero": false}, "axis": {"orient": "right", "values": [20,40,60,80,100], "labels": false}}}},
     {"transform": [{"filter": "datum.s == 'A'"}], "mark": {"type": "point", "shape": "circle", "filled": false, "size": 100, "strokeWidth": 1, "opacity": 1},
      "encoding": {"x": {"field": "x", "type": "quantitative", "title": null, "scale": {"domain": [1980.25, 2008], "nice": false, "zero": false}, "axis": null},
                   "y": {"field": "v", "type": "quantitative", "title": null, "scale": {"domain": [0, 120], "nice": false, "zero": false}, "axis": null}}}
    ],
    "resolve": {"axis": {"x": "independent", "y": "independent"}}}
  ]},
  {"bounds": "flush", "spacing": 126, "resolve": {"scale": {"color": "independent"}, "legend": {"color": "independent"}}, "hconcat": [
   {"width": 403, "height": 274, "title": "France", "transform": [{"filter": "datum.p == 'cFR'"}],
    "encoding": {"color": {"field": "s", "type": "nominal", "scale": {"domain": ["A","E","Q"], "range": ["#3a5bc2","#e8802c","#3451a8"]}, "legend": {"title": null, "orient": "top-left", "offset": 7, "labelExpr": "datum.value == 'A' ? 'Actual (A)' : datum.value == 'E' ? 'Estimated (Q)' : 'Actual (Q)'", "symbolType": {"expr": "datum.value == 'A' ? 'circle' : 'stroke'"}, "symbolSize": {"expr": "datum.value == 'A' ? 100 : 1600"}, "symbolStrokeWidth": {"expr": "datum.value == 'Q' ? 4.5 : datum.value == 'E' ? 1.5 : 1"}}}},
    "layer": [
     {"transform": [{"filter": "datum.s == 'E'"}], "mark": {"type": "line", "interpolate": "monotone", "strokeWidth": 1.5},
      "encoding": {"x": {"field": "x", "type": "quantitative", "title": null, "scale": {"domain": [1980.25, 2008], "nice": false, "zero": false}, "axis": {"orient": "bottom", "values": [1980.25, 1990, 2000, 2008], "labelExpr": "datum.value < 1981 ? '1981' : datum.value > 2007.5 ? '2007' : format(datum.value, 'd')"}},
                   "y": {"field": "v", "type": "quantitative", "title": null, "scale": {"domain": [50, 250], "nice": false, "zero": false}, "axis": {"orient": "left", "values": [50,100,150,200,250], "labelExpr": "'' + datum.value"}}}},
     {"transform": [{"filter": "datum.s == 'Q'"}], "mark": {"type": "line", "interpolate": "monotone", "strokeWidth": 4.5},
      "encoding": {"x": {"field": "x", "type": "quantitative", "title": null, "scale": {"domain": [1980.25, 2008], "nice": false, "zero": false}, "axis": {"orient": "top", "values": [1990, 2000], "labels": false}},
                   "y": {"field": "v", "type": "quantitative", "title": null, "scale": {"domain": [50, 250], "nice": false, "zero": false}, "axis": {"orient": "right", "values": [100,150,200], "labels": false}}}},
     {"transform": [{"filter": "datum.s == 'A'"}], "mark": {"type": "point", "shape": "circle", "filled": false, "size": 100, "strokeWidth": 1, "opacity": 1},
      "encoding": {"x": {"field": "x", "type": "quantitative", "title": null, "scale": {"domain": [1980.25, 2008], "nice": false, "zero": false}, "axis": null},
                   "y": {"field": "v", "type": "quantitative", "title": null, "scale": {"domain": [50, 250], "nice": false, "zero": false}, "axis": null}}}
    ],
    "resolve": {"axis": {"x": "independent", "y": "independent"}}},
   {"width": 402.5, "height": 274, "title": "Italy", "transform": [{"filter": "datum.p == 'cIT'"}],
    "encoding": {"color": {"field": "s", "type": "nominal", "scale": {"domain": ["A","E","Q"], "range": ["#3a5bc2","#e8802c","#3451a8"]}, "legend": {"title": null, "orient": "top-left", "offset": 7, "labelExpr": "datum.value == 'A' ? 'Actual (A)' : datum.value == 'E' ? 'Estimated (Q)' : 'Actual (Q)'", "symbolType": {"expr": "datum.value == 'A' ? 'circle' : 'stroke'"}, "symbolSize": {"expr": "datum.value == 'A' ? 100 : 1600"}, "symbolStrokeWidth": {"expr": "datum.value == 'Q' ? 4.5 : datum.value == 'E' ? 1.5 : 1"}}}},
    "layer": [
     {"transform": [{"filter": "datum.s == 'E'"}], "mark": {"type": "line", "interpolate": "monotone", "strokeWidth": 1.5},
      "encoding": {"x": {"field": "x", "type": "quantitative", "title": null, "scale": {"domain": [1980.25, 2008], "nice": false, "zero": false}, "axis": {"orient": "bottom", "values": [1980.25, 1990, 2000, 2008], "labelExpr": "datum.value < 1981 ? '1981' : datum.value > 2007.5 ? '2007' : format(datum.value, 'd')"}},
                   "y": {"field": "v", "type": "quantitative", "title": null, "scale": {"domain": [20, 180], "nice": false, "zero": false}, "axis": {"orient": "left", "values": [20,40,60,80,100,120,140,160,180], "labelExpr": "'' + datum.value"}}}},
     {"transform": [{"filter": "datum.s == 'Q'"}], "mark": {"type": "line", "interpolate": "monotone", "strokeWidth": 4.5},
      "encoding": {"x": {"field": "x", "type": "quantitative", "title": null, "scale": {"domain": [1980.25, 2008], "nice": false, "zero": false}, "axis": {"orient": "top", "values": [1990, 2000], "labels": false}},
                   "y": {"field": "v", "type": "quantitative", "title": null, "scale": {"domain": [20, 180], "nice": false, "zero": false}, "axis": {"orient": "right", "values": [40,60,80,100,120,140,160], "labels": false}}}},
     {"transform": [{"filter": "datum.s == 'A'"}], "mark": {"type": "point", "shape": "circle", "filled": false, "size": 100, "strokeWidth": 1, "opacity": 1},
      "encoding": {"x": {"field": "x", "type": "quantitative", "title": null, "scale": {"domain": [1980.25, 2008], "nice": false, "zero": false}, "axis": null},
                   "y": {"field": "v", "type": "quantitative", "title": null, "scale": {"domain": [20, 180], "nice": false, "zero": false}, "axis": null}}}
    ],
    "resolve": {"axis": {"x": "independent", "y": "independent"}}}
  ]}
 ]
},
{
 "title": {"text": "Employment (General government)", "font": "Liberation Serif", "fontStyle": "italic", "fontSize": 28.5, "fontWeight": "normal", "color": "#222222", "anchor": "middle", "offset": 5.5},
 "spacing": 57.5,
 "resolve": {"scale": {"color": "independent"}, "legend": {"color": "independent"}},
 "vconcat": [
  {"bounds": "flush", "spacing": 127.5, "resolve": {"scale": {"color": "independent"}, "legend": {"color": "independent"}}, "hconcat": [
   {"width": 400.5, "height": 274, "title": "Germany", "transform": [{"filter": "datum.p == 'eDE'"}],
    "encoding": {"color": {"field": "s", "type": "nominal", "scale": {"domain": ["A","E"], "range": ["#3a5bc2","#e8802c"]}, "legend": {"title": null, "orient": "top-left", "offset": 7, "labelExpr": "datum.value == 'A' ? 'Actual (A)' : 'Estimated (Q)'", "symbolType": {"expr": "datum.value == 'A' ? 'circle' : 'stroke'"}, "symbolSize": {"expr": "datum.value == 'A' ? 100 : 1600"}, "symbolStrokeWidth": {"expr": "datum.value == 'E' ? 1.5 : 1"}}}},
    "layer": [
     {"transform": [{"filter": "datum.s == 'E'"}], "mark": {"type": "line", "interpolate": "monotone", "strokeWidth": 1.5},
      "encoding": {"x": {"field": "x", "type": "quantitative", "title": null, "scale": {"domain": [1980.25, 2008], "nice": false, "zero": false}, "axis": {"orient": "bottom", "values": [1980.25, 1990, 2000, 2008], "labelExpr": "datum.value < 1981 ? '1981' : datum.value > 2007.5 ? '2007' : format(datum.value, 'd')"}},
                   "y": {"field": "v", "type": "quantitative", "title": null, "scale": {"domain": [4.2, 5.6], "nice": false, "zero": false}, "axis": {"orient": "left", "values": [4.2,4.4,4.6,4.8,5,5.2,5.4,5.6], "labelExpr": "'' + datum.value"}}}},
     {"transform": [{"filter": "datum.s == 'A'"}], "mark": {"type": "point", "shape": "circle", "filled": false, "size": 100, "strokeWidth": 1, "opacity": 1},
      "encoding": {"x": {"field": "x", "type": "quantitative", "title": null, "scale": {"domain": [1980.25, 2008], "nice": false, "zero": false}, "axis": {"orient": "top", "values": [1990, 2000], "labels": false}},
                   "y": {"field": "v", "type": "quantitative", "title": null, "scale": {"domain": [4.2, 5.6], "nice": false, "zero": false}, "axis": {"orient": "right", "values": [4.4,4.6,4.8,5,5.2,5.4], "labels": false}}}}
    ],
    "resolve": {"axis": {"x": "independent", "y": "independent"}}},
   {"width": 403.5, "height": 274, "title": "Spain", "transform": [{"filter": "datum.p == 'eES'"}],
    "encoding": {"color": {"field": "s", "type": "nominal", "scale": {"domain": ["A","E"], "range": ["#3a5bc2","#e8802c"]}, "legend": {"title": null, "orient": "top-left", "offset": 7, "labelExpr": "datum.value == 'A' ? 'Actual (A)' : 'Estimated (Q)'", "symbolType": {"expr": "datum.value == 'A' ? 'circle' : 'stroke'"}, "symbolSize": {"expr": "datum.value == 'A' ? 100 : 1600"}, "symbolStrokeWidth": {"expr": "datum.value == 'E' ? 1.5 : 1"}}}},
    "layer": [
     {"transform": [{"filter": "datum.s == 'E'"}], "mark": {"type": "line", "interpolate": "monotone", "strokeWidth": 1.5},
      "encoding": {"x": {"field": "x", "type": "quantitative", "title": null, "scale": {"domain": [1980.25, 2008], "nice": false, "zero": false}, "axis": {"orient": "bottom", "values": [1980.25, 1990, 2000, 2008], "labelExpr": "datum.value < 1981 ? '1981' : datum.value > 2007.5 ? '2007' : format(datum.value, 'd')"}},
                   "y": {"field": "v", "type": "quantitative", "title": null, "scale": {"domain": [1, 3], "nice": false, "zero": false}, "axis": {"orient": "left", "values": [1,1.5,2,2.5,3], "labelExpr": "'' + datum.value"}}}},
     {"transform": [{"filter": "datum.s == 'A'"}], "mark": {"type": "point", "shape": "circle", "filled": false, "size": 100, "strokeWidth": 1, "opacity": 1},
      "encoding": {"x": {"field": "x", "type": "quantitative", "title": null, "scale": {"domain": [1980.25, 2008], "nice": false, "zero": false}, "axis": {"orient": "top", "values": [1990, 2000], "labels": false}},
                   "y": {"field": "v", "type": "quantitative", "title": null, "scale": {"domain": [1, 3], "nice": false, "zero": false}, "axis": {"orient": "right", "values": [1.5,2,2.5], "labels": false}}}}
    ],
    "resolve": {"axis": {"x": "independent", "y": "independent"}}}
  ]},
  {"bounds": "flush", "spacing": 127.5, "resolve": {"scale": {"color": "independent"}, "legend": {"color": "independent"}}, "hconcat": [
   {"width": 400.5, "height": 274, "title": "France", "transform": [{"filter": "datum.p == 'eFR'"}],
    "encoding": {"color": {"field": "s", "type": "nominal", "scale": {"domain": ["A","E"], "range": ["#3a5bc2","#e8802c"]}, "legend": {"title": null, "orient": "top-left", "offset": 7, "labelExpr": "datum.value == 'A' ? 'Actual (A)' : 'Estimated (Q)'", "symbolType": {"expr": "datum.value == 'A' ? 'circle' : 'stroke'"}, "symbolSize": {"expr": "datum.value == 'A' ? 100 : 1600"}, "symbolStrokeWidth": {"expr": "datum.value == 'E' ? 1.5 : 1"}}}},
    "layer": [
     {"transform": [{"filter": "datum.s == 'E'"}], "mark": {"type": "line", "interpolate": "monotone", "strokeWidth": 1.5},
      "encoding": {"x": {"field": "x", "type": "quantitative", "title": null, "scale": {"domain": [1980.25, 2008], "nice": false, "zero": false}, "axis": {"orient": "bottom", "values": [1980.25, 1990, 2000, 2008], "labelExpr": "datum.value < 1981 ? '1981' : datum.value > 2007.5 ? '2007' : format(datum.value, 'd')"}},
                   "y": {"field": "v", "type": "quantitative", "title": null, "scale": {"domain": [4, 6], "nice": false, "zero": false}, "axis": {"orient": "left", "values": [4,4.5,5,5.5,6], "labelExpr": "'' + datum.value"}}}},
     {"transform": [{"filter": "datum.s == 'A'"}], "mark": {"type": "point", "shape": "circle", "filled": false, "size": 100, "strokeWidth": 1, "opacity": 1},
      "encoding": {"x": {"field": "x", "type": "quantitative", "title": null, "scale": {"domain": [1980.25, 2008], "nice": false, "zero": false}, "axis": {"orient": "top", "values": [1990, 2000], "labels": false}},
                   "y": {"field": "v", "type": "quantitative", "title": null, "scale": {"domain": [4, 6], "nice": false, "zero": false}, "axis": {"orient": "right", "values": [4.5,5,5.5], "labels": false}}}}
    ],
    "resolve": {"axis": {"x": "independent", "y": "independent"}}},
   {"width": 403.5, "height": 274, "title": "Italy", "transform": [{"filter": "datum.p == 'eIT'"}],
    "encoding": {"color": {"field": "s", "type": "nominal", "scale": {"domain": ["A","E"], "range": ["#3a5bc2","#e8802c"]}, "legend": {"title": null, "orient": "top-left", "offset": 7, "labelExpr": "datum.value == 'A' ? 'Actual (A)' : 'Estimated (Q)'", "symbolType": {"expr": "datum.value == 'A' ? 'circle' : 'stroke'"}, "symbolSize": {"expr": "datum.value == 'A' ? 100 : 1600"}, "symbolStrokeWidth": {"expr": "datum.value == 'E' ? 1.5 : 1"}}}},
    "layer": [
     {"transform": [{"filter": "datum.s == 'E'"}], "mark": {"type": "line", "interpolate": "monotone", "strokeWidth": 1.5},
      "encoding": {"x": {"field": "x", "type": "quantitative", "title": null, "scale": {"domain": [1980.25, 2008], "nice": false, "zero": false}, "axis": {"orient": "bottom", "values": [1980.25, 1990, 2000, 2008], "labelExpr": "datum.value < 1981 ? '1981' : datum.value > 2007.5 ? '2007' : format(datum.value, 'd')"}},
                   "y": {"field": "v", "type": "quantitative", "title": null, "scale": {"domain": [3.1, 3.8], "nice": false, "zero": false}, "axis": {"orient": "left", "values": [3.1,3.2,3.3,3.4,3.5,3.6,3.7,3.8], "labelExpr": "'' + datum.value"}}}},
     {"transform": [{"filter": "datum.s == 'A'"}], "mark": {"type": "point", "shape": "circle", "filled": false, "size": 100, "strokeWidth": 1, "opacity": 1},
      "encoding": {"x": {"field": "x", "type": "quantitative", "title": null, "scale": {"domain": [1980.25, 2008], "nice": false, "zero": false}, "axis": {"orient": "top", "values": [1990, 2000], "labels": false}},
                   "y": {"field": "v", "type": "quantitative", "title": null, "scale": {"domain": [3.1, 3.8], "nice": false, "zero": false}, "axis": {"orient": "right", "values": [3.2,3.3,3.4,3.5,3.6,3.7], "labels": false}}}}
    ],
    "resolve": {"axis": {"x": "independent", "y": "independent"}}}
  ]}
 ]
}
]
}
